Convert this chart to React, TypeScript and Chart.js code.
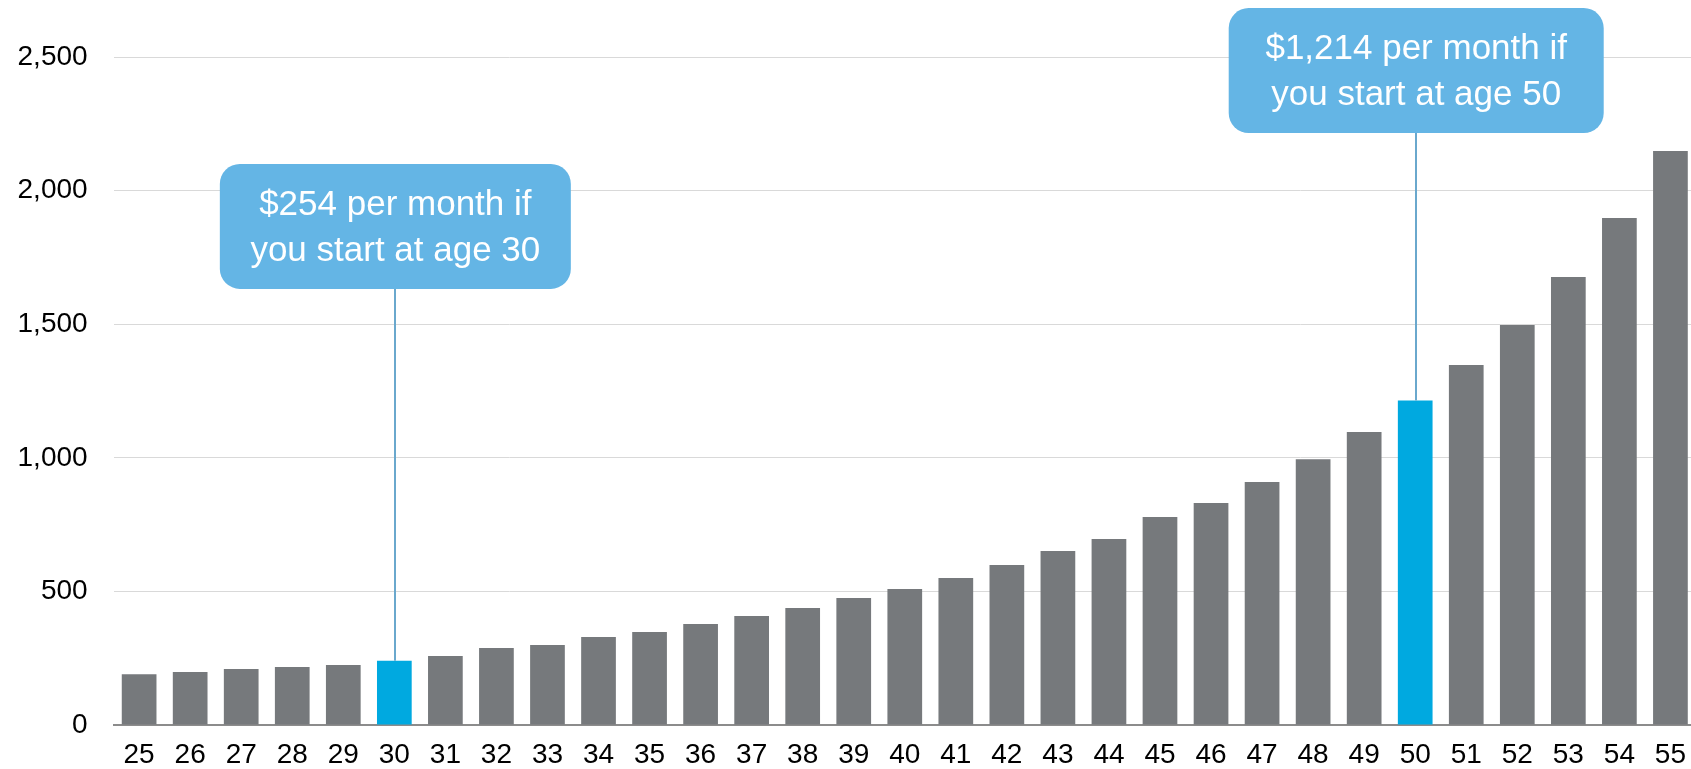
import { useEffect, useRef } from "react";
import { Chart, registerables } from "chart.js";

Chart.register(...registerables);

// ---- Data ----
const ages = [
  "25", "26", "27", "28", "29", "30", "31", "32", "33", "34", "35",
  "36", "37", "38", "39", "40", "41", "42", "43", "44", "45",
  "46", "47", "48", "49", "50", "51", "52", "53", "54", "55",
];
const monthlySavings = [
  190, 198, 210, 217, 225, 240, 258, 288, 299, 329, 348,
  378, 408, 438, 475, 509, 550, 599, 651, 696, 778,
  831, 909, 995, 1097, 1214, 1347, 1497, 1677, 1897, 2148,
];
const highlightedAges = ["30", "50"];
const yTickValues = [0, 500, 1000, 1500, 2000, 2500];
const calloutAges = ["30", "50"];
const calloutTexts = [
  ["$254 per month if", "you start at age 30"],
  ["$1,214 per month if", "you start at age 50"],
];
const calloutTopValues = [2100, 2683];

const FONT = '"Liberation Sans", Arial, Helvetica, sans-serif';

const calloutPlugin = {
  id: "callouts",
  afterDraw(chart: any, _args: any, opts: any) {
    const { ctx } = chart;
    const y = chart.scales.y;
    const meta = chart.getDatasetMeta(0);
    calloutAges.forEach((age, i) => {
      const idx = ages.indexOf(age);
      const bar: any = meta.data[idx];
      const cx = bar.x;
      const lx = Math.round(cx) + 1;
      const top = y.getPixelForValue(calloutTopValues[i]);
      const w = opts.widths[i];
      const h = opts.height;
      const left = cx + 1 - w / 2;
      ctx.save();
      ctx.strokeStyle = opts.lineColor;
      ctx.lineWidth = 2;
      ctx.beginPath();
      ctx.moveTo(lx, top + h);
      ctx.lineTo(lx, bar.y);
      ctx.stroke();
      ctx.fillStyle = opts.boxColor;
      ctx.beginPath();
      ctx.roundRect(left, top, w, h, opts.radius);
      ctx.fill();
      ctx.fillStyle = "#ffffff";
      ctx.font = `${opts.fontSize}px ${FONT}`;
      ctx.textAlign = "center";
      ctx.textBaseline = "alphabetic";
      calloutTexts[i].forEach((line, j) => {
        ctx.fillText(line, left + w / 2, top + opts.firstBaseline + j * opts.lineGap);
      });
      ctx.restore();
    });
  },
};

export default function App() {
  const canvasRef = useRef<HTMLCanvasElement | null>(null);

  useEffect(() => {
    if (!canvasRef.current) return;
    const chart = new Chart(canvasRef.current, {
      type: "bar",
      data: {
        labels: ages,
        datasets: [
          {
            data: monthlySavings,
            backgroundColor: ages.map((a) =>
              highlightedAges.includes(a) ? "#00a9e0" : "#76797c"
            ),
            borderWidth: 0,
            categoryPercentage: 1,
            barPercentage: 0.68,
          },
        ],
      },
      options: {
        animation: false,
        responsive: true,
        maintainAspectRatio: false,
        layout: { padding: { top: 57, left: 0, right: 0, bottom: 0 } },
        plugins: {
          legend: { display: false },
          tooltip: { enabled: false },
          callouts: {
            widths: [351, 375],
            height: 125,
            radius: 20,
            boxColor: "#64b5e5",
            lineColor: "#6aa8cd",
            fontSize: 35,
            firstBaseline: 51,
            lineGap: 46,
          },
        } as any,
        scales: {
          x: {
            grid: { display: false, drawTicks: false },
            border: { display: true, color: "#8c8c8c", width: 2 },
            ticks: {
              color: "#000000",
              font: { family: FONT, size: 28 },
              padding: 13,
              maxRotation: 0,
              autoSkip: false,
            },
            afterFit: (scale: any) => {
              scale.height = 44;
            },
          },
          y: {
            min: 0,
            max: 2500,
            grid: { color: "#d9d9d9", lineWidth: 1, drawTicks: false },
            border: { display: false },
            afterBuildTicks: (scale: any) => {
              scale.ticks = yTickValues.map((v) => ({ value: v }));
            },
            ticks: {
              color: "#000000",
              font: { family: FONT, size: 28 },
              padding: 26,
              callback: (v: any) => Number(v).toLocaleString("en-US"),
            },
            afterFit: (scale: any) => {
              scale.width = 113.6;
            },
          },
        },
      },
      plugins: [calloutPlugin],
    });
    return () => chart.destroy();
  }, []);

  return (
    <div
      style={{
        position: "absolute",
        left: 0,
        top: 0,
        width: 1691,
        height: 769,
        overflow: "hidden",
        background: "#ffffff",
      }}
    >
      <div style={{ position: "relative", width: 1699, height: 769 }}>
        <canvas ref={canvasRef} />
      </div>
    </div>
  );
}
